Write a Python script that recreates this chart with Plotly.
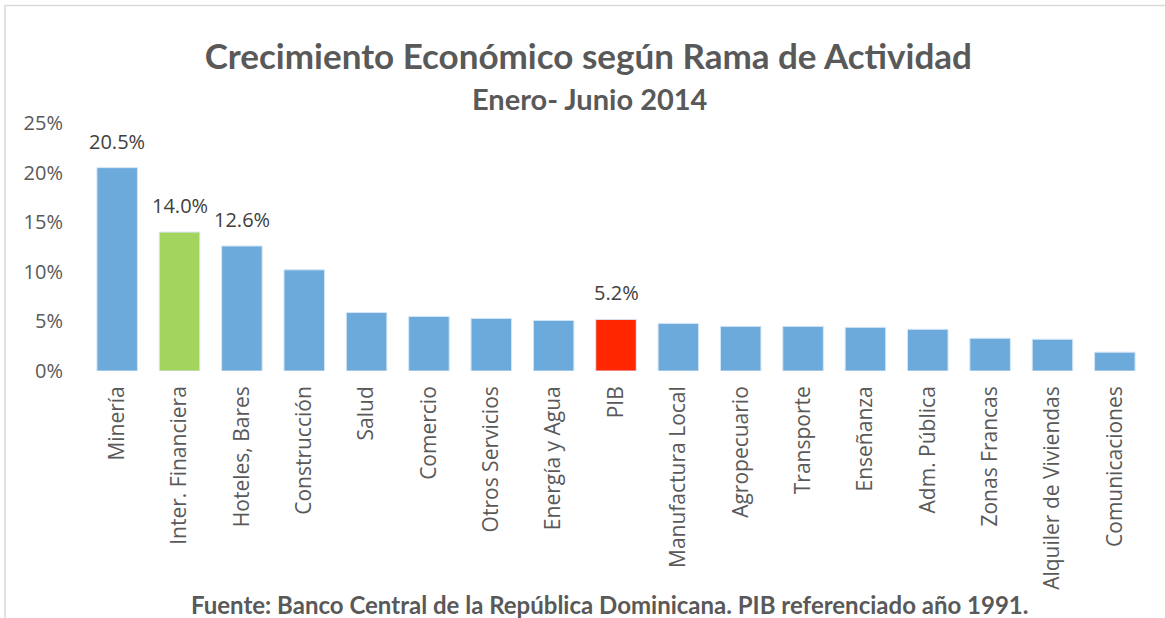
import plotly.graph_objects as go

categories = ["Minería", "Inter. Financiera", "Hoteles, Bares", "Construcción", "Salud",
              "Comercio", "Otros Servicios", "Energía y Agua", "PIB", "Manufactura Local",
              "Agropecuario", "Transporte", "Enseñanza", "Adm. Pública", "Zonas Francas",
              "Alquiler de Viviendas", "Comunicaciones"]
values = [20.5, 14.0, 12.6, 10.2, 5.9, 5.5, 5.3, 5.1, 5.2, 4.8, 4.5, 4.5, 4.4, 4.2, 3.3, 3.2, 1.9]
labeled = ["Minería", "Inter. Financiera", "Hoteles, Bares", "PIB"]
y_ticks = [0, 5, 10, 15, 20, 25]
y_tick_labels = ["0%", "5%", "10%", "15%", "20%", "25%"]

BLUE = "#6DAADC"
GREEN = "#A2D45E"
RED = "#FF2600"
colors = [GREEN if c == "Inter. Financiera" else RED if c == "PIB" else BLUE for c in categories]

fig = go.Figure()
fig.add_trace(go.Bar(
    x=categories, y=values,
    marker=dict(color=colors, line=dict(color="#D6E6F5", width=1)),
    hoverinfo="x+y",
))

annotations = []
for c, v in zip(categories, values):
    if c in labeled:
        annotations.append(dict(
            x=c, y=v, xref="x", yref="y", text=f"{v:.1f}%", showarrow=False,
            yanchor="bottom", yshift=11,
            font=dict(family="Open Sans", size=20, color="#404040"),
        ))

annotations.append(dict(
    x=0.475, y=1.10, xref="paper", yref="paper", text="<b>Enero- Junio 2014</b>",
    showarrow=False, xanchor="center", yanchor="middle",
    font=dict(family="Lato", size=29, color="#595959"),
))
annotations.append(dict(
    x=0.494, y=-0.94, xref="paper", yref="paper",
    text="<b>Fuente: Banco Central de la República Dominicana. PIB referenciado año 1991.</b>",
    showarrow=False, xanchor="center", yanchor="middle",
    font=dict(family="Lato", size=24, color="#595959"),
))

fig.update_layout(
    width=1165, height=618,
    margin=dict(l=86, r=19, t=123, b=247),
    paper_bgcolor="white", plot_bgcolor="white",
    showlegend=False,
    bargap=0.35,
    title=dict(text="<b>Crecimiento Económico según Rama de Actividad</b>",
               x=0.505, xanchor="center", y=0.908, yanchor="middle",
               font=dict(family="Lato", size=35, color="#595959")),
    annotations=annotations,
    shapes=[dict(type="rect", xref="paper", yref="paper",
                 x0=-0.0764, x1=1.03, y0=-1.05, y1=1.4738,
                 line=dict(color="#D9D9D9", width=1.5), fillcolor="rgba(0,0,0,0)",
                 layer="below")],
)
fig.update_xaxes(tickangle=-90, showgrid=False, showline=False, ticks="",
                 ticklabelstandoff=10,
                 tickfont=dict(family="Open Sans", size=21, color="#595959"))
fig.update_yaxes(range=[0, 25], tickvals=y_ticks, ticktext=y_tick_labels, showgrid=False,
                 showline=False, zeroline=False, ticks="", ticklabelstandoff=22,
                 tickfont=dict(family="Open Sans", size=20, color="#595959"))

fig.write_html("out.html", config={"displayModeBar": False},
               post_script="document.body.style.margin='0px';")
